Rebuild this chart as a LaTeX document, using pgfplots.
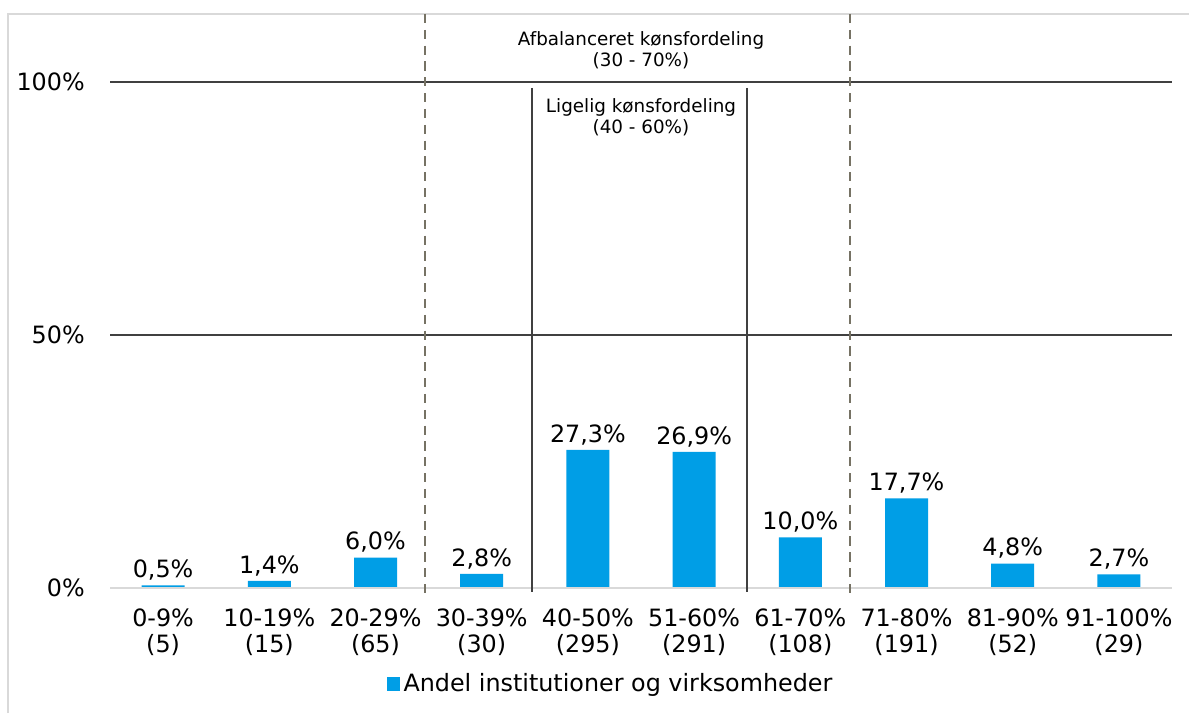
\documentclass[border=0pt]{standalone}
\usepackage{pgfplots}
\pgfplotsset{compat=1.18}
\usepackage{fontspec}
\setmainfont{DejaVu Sans}
\definecolor{barblue}{RGB}{0,158,230}
\definecolor{gridcol}{RGB}{64,64,64}
\definecolor{basecol}{RGB}{217,217,217}
\definecolor{dashcol}{RGB}{118,114,100}
\begin{document}
\begin{tikzpicture}
\useasboundingbox (0,0) rectangle (713.4pt,427.8pt);
\fill[white] (0,0) rectangle (713.4pt,427.8pt);
\draw[basecol, line width=1.5pt] (4.8pt,0) -- (4.8pt,419.4pt) -- (713.4pt,419.4pt);
\begin{axis}[
 at={(66pt,75pt)}, anchor=south west,
 scale only axis, width=637.2pt, height=344.4pt,
 xmin=-0.5, xmax=9.5, ymin=0, ymax=113.4,
 axis line style={draw=none},
 clip=false,
 ybar, bar width=25.8pt,
 xtick={0,...,9},
 xticklabels={{0-9\%\\(5)},{10-19\%\\(15)},{20-29\%\\(65)},{30-39\%\\(30)},{40-50\%\\(295)},{51-60\%\\(291)},{61-70\%\\(108)},{71-80\%\\(191)},{81-90\%\\(52)},{91-100\%\\(29)}},
 ytick={0,50,100}, yticklabels={0\%,50\%,100\%},
 major tick length=0pt,
 tick label style={font=\fontsize{14.3}{15.5}\selectfont},
 xticklabel style={align=center, anchor=north, inner sep=0pt, yshift=-12.5pt},
 yticklabel style={anchor=east, inner sep=0pt, xshift=-15pt},
 nodes near coords={\pgfmathprintnumber[fixed,fixed zerofill,precision=1,use comma,assume math mode=true]{\pgfplotspointmeta}\%},
 every node near coord/.append style={font=\fontsize{14.3}{15.5}\selectfont, black, inner sep=2.8pt},
 legend style={at={(0.472,-0.166)}, anchor=center, draw=none, fill=none, font=\fontsize{14.3}{15.5}\selectfont, inner sep=0pt},
 legend image code/.code={\fill[barblue] (0pt,-4.5pt) rectangle (8pt,3.5pt);},
]
\addplot[fill=barblue, draw=none] coordinates {(0,0.5) (1,1.4) (2,6.0) (3,2.8) (4,27.3) (5,26.9) (6,10.0) (7,17.7) (8,4.8) (9,2.7)};
\addlegendentry{Andel institutioner og virksomheder}
\draw[basecol, line width=1.2pt] (axis cs:-0.5,0) -- (axis cs:9.5,0);
\draw[gridcol, line width=1.2pt] (axis cs:-0.5,50) -- (axis cs:9.5,50);
\draw[gridcol, line width=1.2pt] (axis cs:-0.5,100) -- (axis cs:9.5,100);
\draw[gridcol, line width=1.2pt] (axis cs:3.476,98.8) -- (axis cs:3.476,-0.8);
\draw[gridcol, line width=1.2pt] (axis cs:5.498,98.8) -- (axis cs:5.498,-0.8);
\draw[dashcol, line width=1.2pt, dash pattern=on 5.5pt off 4pt] (axis cs:2.466,113.4) -- (axis cs:2.466,-1.8);
\draw[dashcol, line width=1.2pt, dash pattern=on 5.5pt off 4pt] (axis cs:6.468,113.4) -- (axis cs:6.468,-1.8);
\node[align=center, font=\fontsize{11}{12.5}\selectfont] at (axis cs:4.5,106.3) {Afbalanceret kønsfordeling\\(30 - 70\%)};
\node[align=center, font=\fontsize{11}{12.5}\selectfont] at (axis cs:4.5,93) {Ligelig kønsfordeling\\(40 - 60\%)};
\end{axis}
\end{tikzpicture}
\end{document}
